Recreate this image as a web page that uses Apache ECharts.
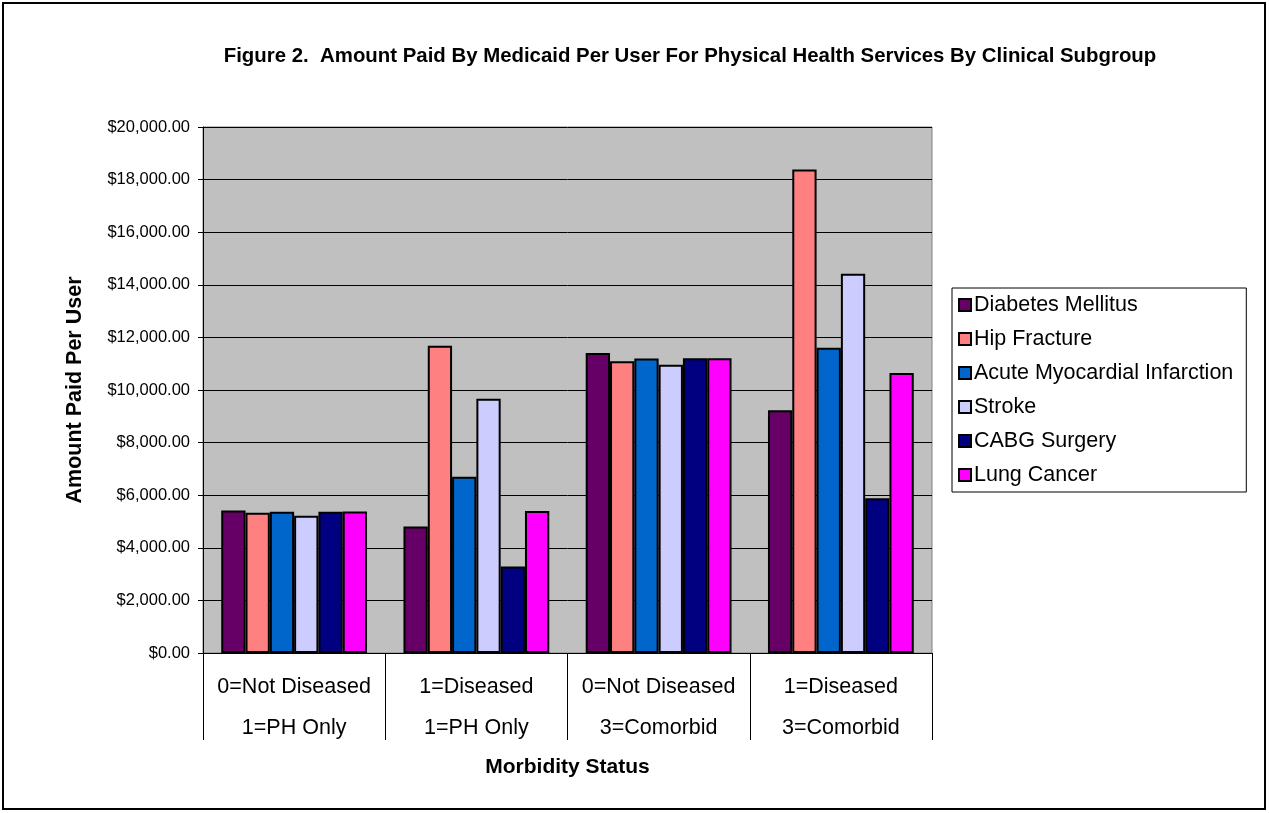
<!DOCTYPE html>
<html>
<head>
<meta charset="utf-8">
<script src="https://cdn.jsdelivr.net/npm/echarts@6/dist/echarts.min.js"></script>
<style>
  html, body { margin: 0; padding: 0; background: #fff; }
  #chart { width: 1269px; height: 813px; }
</style>
</head>
<body>
<div id="chart"></div>
<script>
// morbidity status groups (two label lines each)
const categories = [
  '0=Not Diseased\n1=PH Only',
  '1=Diseased\n1=PH Only',
  '0=Not Diseased\n3=Comorbid',
  '1=Diseased\n3=Comorbid'
];
const seriesNames = ['Diabetes Mellitus', 'Hip Fracture', 'Acute Myocardial Infarction', 'Stroke', 'CABG Surgery', 'Lung Cancer'];
const diabetes = [5420, 4810, 11410, 9230];
const hipFracture = [5330, 11680, 11090, 18380];
const ami = [5370, 6700, 11200, 11610];
const stroke = [5220, 9670, 10960, 14420];
const cabg = [5370, 3290, 11210, 5880];
const lungCancer = [5380, 5400, 11210, 10650];
const colors = ['#660066', '#FF8080', '#0066CC', '#CCCCFF', '#000080', '#FF00FF'];

const chart = echarts.init(document.getElementById('chart'));
const allData = [diabetes, hipFracture, ami, stroke, cabg, lungCancer];
const FONT = 'Liberation Sans, Arial, sans-serif';

const option = {
  animation: false,
  backgroundColor: '#fff',
  textStyle: { fontFamily: FONT, color: '#000' },
  title: {
    text: 'Figure 2.  Amount Paid By Medicaid Per User For Physical Health Services By Clinical Subgroup',
    left: 685, top: 41, textAlign: 'center',
    textStyle: { fontFamily: FONT, fontSize: 20.4, fontWeight: 'bold', color: '#000' }
  },
  graphic: [{
    type: 'rect', silent: true,
    shape: { x: 3, y: 3, width: 1262, height: 806 },
    style: { fill: 'none', stroke: '#000', lineWidth: 2 }
  }],
  legend: {
    orient: 'vertical',
    left: 952, top: 288,
    width: 294,
    padding: [6, 13, 6, 6],
    itemGap: 12,
    itemWidth: 12, itemHeight: 12,
    backgroundColor: '#fff',
    borderColor: '#000', borderWidth: 1,
    icon: 'rect',
    textStyle: { fontFamily: FONT, fontSize: 21.5, color: '#000', padding: [0, 0, 0, -2] },
    data: seriesNames
  },
  grid: {
    left: 203, top: 127, right: 337, bottom: 160,
    show: true, backgroundColor: '#C0C0C0', borderColor: '#808080', borderWidth: 1
  },
  xAxis: {
    type: 'category',
    data: categories,
    name: 'Morbidity Status',
    nameLocation: 'middle',
    nameGap: 104,
    nameTextStyle: { fontFamily: FONT, fontSize: 21, fontWeight: 'bold', color: '#000' },
    axisLine: { show: true, lineStyle: { color: '#000', width: 1 } },
    axisTick: { show: true, alignWithLabel: false, interval: 0, length: 87, lineStyle: { color: '#000', width: 1 } },
    axisLabel: { interval: 0, fontFamily: FONT, fontSize: 21.5, color: '#000', lineHeight: 41, margin: 14 }
  },
  yAxis: {
    type: 'value',
    min: 0, max: 20000, interval: 2000,
    name: 'Amount Paid Per User',
    nameLocation: 'middle',
    nameGap: 117,
    nameTextStyle: { fontFamily: FONT, fontSize: 21.5, fontWeight: 'bold', color: '#000' },
    axisLine: { show: true, lineStyle: { color: '#000' } },
    axisTick: { show: true, length: 5, lineStyle: { color: '#000' } },
    splitLine: { lineStyle: { color: '#000', width: 1 } },
    axisLabel: {
      fontFamily: FONT, fontSize: 16.5, color: '#000', margin: 13,
      formatter: v => '$' + v.toLocaleString('en-US', { minimumFractionDigits: 2, maximumFractionDigits: 2 })
    }
  },
  series: seriesNames.map((name, i) => ({
    name: name,
    type: 'bar',
    data: allData[i],
    barGap: '0%',
    barCategoryGap: '20%',
    itemStyle: { color: colors[i], borderColor: '#000', borderWidth: 2 }
  }))
};

chart.setOption(option);
</script>
</body>
</html>
